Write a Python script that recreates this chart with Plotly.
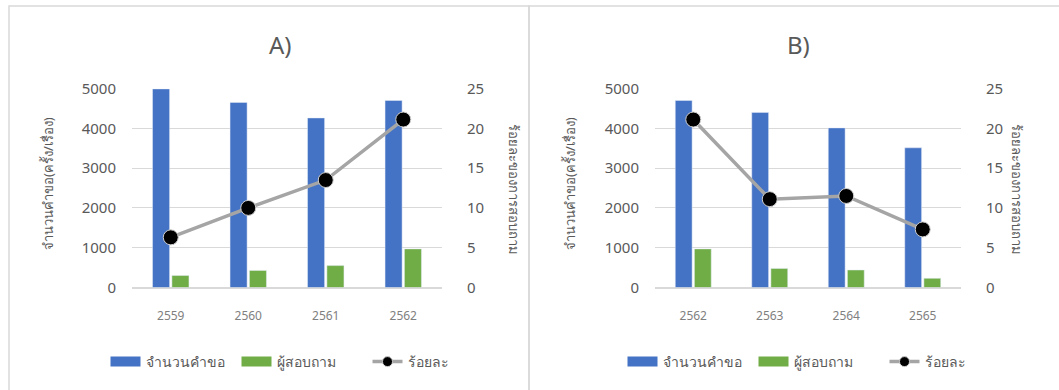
import plotly.graph_objects as go

# ---- data ----
years_a = ["2559", "2560", "2561", "2562"]
requests_a = [4990, 4650, 4260, 4700]
inquirers_a = [300, 430, 550, 970]
percent_a = [6.3, 10.0, 13.5, 21.1]

years_b = ["2562", "2563", "2564", "2565"]
requests_b = [4700, 4400, 4010, 3510]
inquirers_b = [970, 480, 440, 230]
percent_b = [21.1, 11.1, 11.5, 7.3]

names = ["จำนวนคำขอ", "ผู้สอบถาม", "ร้อยละ"]
titles = ["A)", "B)"]
left_title = "จำนวนคำขอ(ครั้ง/เรื่อง)"
right_title = "ร้อยละของการสอบถาม"

BLUE = "#4472C4"
GREEN = "#70AD47"
GREY = "#A5A5A5"
TXT = "#595959"
GRID = "#D9D9D9"
FONT = "Noto Sans, Liberation Sans, sans-serif"

W, H = 1059, 390

def px_x(p):
    return p / W

def px_y(p):
    return 1 - p / H

fig = go.Figure()

panels = [
    dict(x=years_a, req=requests_a, inq=inquirers_a, pct=percent_a,
         xa="x", ya="y", ya2="y2", legend="legend"),
    dict(x=years_b, req=requests_b, inq=inquirers_b, pct=percent_b,
         xa="x2", ya="y3", ya2="y4", legend="legend2"),
]

for p in panels:
    # legend-only entries (wide swatches and small marker like the original)
    for nm, col in [(names[0], BLUE), (names[1], GREEN)]:
        fig.add_trace(go.Scatter(x=[None], y=[None], mode="lines", name=nm,
                                 line=dict(color=col, width=11),
                                 xaxis=p["xa"], yaxis=p["ya"], legend=p["legend"],
                                 hoverinfo="skip"))
    fig.add_trace(go.Scatter(x=[None], y=[None], mode="lines+markers", name=names[2],
                             line=dict(color=GREY, width=3.5),
                             marker=dict(color="black", size=10,
                                         line=dict(color="#D0D0D0", width=1)),
                             xaxis=p["xa"], yaxis=p["ya2"], legend=p["legend"],
                             hoverinfo="skip"))
    fig.add_trace(go.Bar(x=p["x"], y=p["req"], name=names[0], marker_color=BLUE,
                         xaxis=p["xa"], yaxis=p["ya"], showlegend=False))
    fig.add_trace(go.Bar(x=p["x"], y=p["inq"], name=names[1], marker_color=GREEN,
                         xaxis=p["xa"], yaxis=p["ya"], showlegend=False))
    fig.add_trace(go.Scatter(x=p["x"], y=p["pct"], name=names[2], mode="lines+markers",
                             line=dict(color=GREY, width=3.5),
                             marker=dict(color="black", size=15,
                                         line=dict(color="#D0D0D0", width=1)),
                             xaxis=p["xa"], yaxis=p["ya2"], showlegend=False))

ydom = [px_y(287.5), px_y(88.5)]
xdom_a = [px_x(132), px_x(442)]
xdom_b = [px_x(655), px_x(961)]

xcommon = dict(type="category", showgrid=False, showline=False, ticks="",
               automargin=False,
               tickfont=dict(family=FONT, size=12, color="#7F7F7F"),
               ticklabelstandoff=19)
yleft = dict(range=[0, 5000], dtick=1000, showgrid=True, gridcolor=GRID, gridwidth=1,
             zeroline=True, zerolinecolor=GRID, zerolinewidth=1.5,
             showline=False, ticks="", domain=ydom, automargin=False,
             tickfont=dict(family=FONT, size=15, color=TXT), ticklabelstandoff=15)
yright = dict(range=[0, 25], dtick=5, showgrid=False, zeroline=False, showline=False,
              ticks="", side="right", domain=ydom, automargin=False,
              tickfont=dict(family=FONT, size=15, color=TXT), ticklabelstandoff=24)

legcommon = dict(orientation="h", xanchor="center", y=px_y(362), yanchor="middle",
                 font=dict(family=FONT, size=14, color=TXT),
                 bgcolor="rgba(0,0,0,0)", itemclick=False,
                 entrywidth=86, entrywidthmode="pixels")

fig.update_layout(
    width=W, height=H,
    margin=dict(l=0, r=0, t=0, b=0, autoexpand=False),
    paper_bgcolor="white", plot_bgcolor="white",
    barmode="group", bargap=0.5, bargroupgap=0.12,
    font=dict(family=FONT, color=TXT),
    xaxis=dict(domain=xdom_a, anchor="y", **xcommon),
    yaxis=dict(anchor="x", **yleft),
    yaxis2=dict(anchor="x", overlaying="y", **yright),
    xaxis2=dict(domain=xdom_b, anchor="y3", **xcommon),
    yaxis3=dict(anchor="x2", **yleft),
    yaxis4=dict(anchor="x2", overlaying="y3", **yright),
    legend=dict(x=px_x(302), **legcommon),
    legend2=dict(x=px_x(819), **legcommon),
    showlegend=True,
)

# panel borders
fig.add_shape(type="rect", xref="paper", yref="paper",
              x0=px_x(9), x1=px_x(529), y0=-0.2, y1=px_y(6),
              line=dict(color=GRID, width=1.5), layer="below")
fig.add_shape(type="rect", xref="paper", yref="paper",
              x0=px_x(529), x1=1.2, y0=-0.2, y1=px_y(6),
              line=dict(color=GRID, width=1.5), layer="below")

# titles
for t, cx in zip(titles, [280, 798]):
    fig.add_annotation(text=t, xref="paper", yref="paper", x=px_x(cx), y=px_y(44),
                       xanchor="center", yanchor="middle", showarrow=False,
                       font=dict(family=FONT, size=24, color=TXT))

# axis titles
for lx, rx in [(48, 514), (570, 1017)]:
    fig.add_annotation(text=left_title, xref="paper", yref="paper", x=px_x(lx),
                       y=px_y(184), textangle=-90, showarrow=False,
                       xanchor="center", yanchor="middle",
                       font=dict(family=FONT, size=13, color=TXT))
    fig.add_annotation(text=right_title, xref="paper", yref="paper", x=px_x(rx),
                       y=px_y(189), textangle=90, showarrow=False,
                       xanchor="center", yanchor="middle",
                       font=dict(family=FONT, size=13, color=TXT))

fig.write_html("out.html")
